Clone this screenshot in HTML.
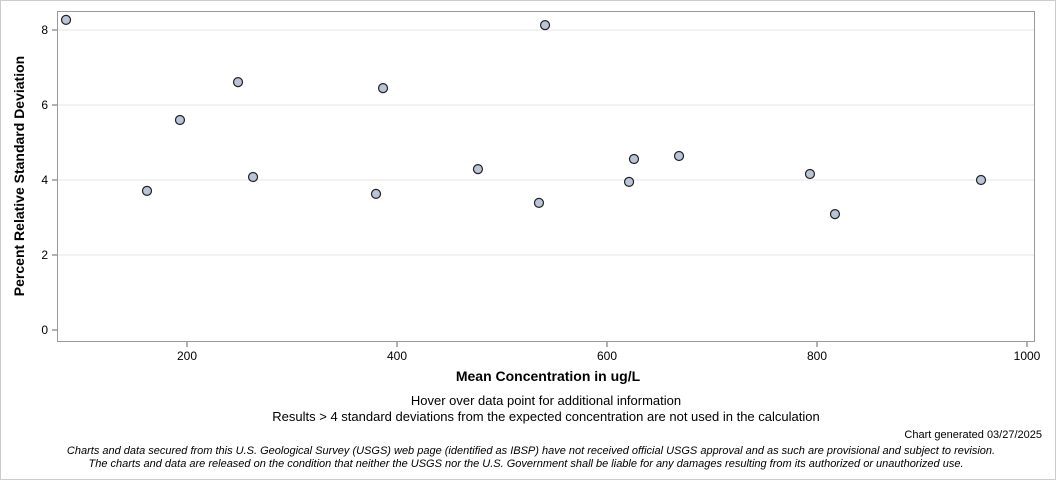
<!DOCTYPE html>
<html><head><meta charset="utf-8"><style>
body{margin:0;background:#fff;font-family:"Liberation Sans",Arial,sans-serif;}
</style></head><body>
<svg id="chart" width="1056" height="480" xmlns="http://www.w3.org/2000/svg" font-family="Liberation Sans, Arial, sans-serif">
<rect x="0.5" y="0.5" width="1055" height="479" fill="#fff" stroke="#ccc"/>
<g id="grid"></g>
<rect x="57.5" y="11.5" width="977" height="330" fill="none" stroke="#999"/>
<g id="xaxis"></g>
<g id="yaxis"></g>
<g id="points"></g>
<text x="548" y="381" text-anchor="middle" font-size="14" font-weight="bold">Mean Concentration in ug/L</text>
<text transform="translate(24,176) rotate(-90)" text-anchor="middle" font-size="14" font-weight="bold">Percent Relative Standard Deviation</text>
<text x="546" y="405" text-anchor="middle" font-size="13">Hover over data point for additional information</text>
<text x="546" y="421" text-anchor="middle" font-size="13">Results &gt; 4 standard deviations from the expected concentration are not used in the calculation</text>
<text x="1042" y="438" text-anchor="end" font-size="11">Chart generated 03/27/2025</text>
<text x="531" y="454" text-anchor="middle" font-size="11" font-style="italic">Charts and data secured from this U.S. Geological Survey (USGS) web page (identified as IBSP) have not received official USGS approval and as such are provisional and subject to revision.</text>
<text x="526" y="467" text-anchor="middle" font-size="11" font-style="italic">The charts and data are released on the condition that neither the USGS nor the U.S. Government shall be liable for any damages resulting from its authorized or unauthorized use.</text>
</svg>
<script>
const xVals=[84.8,161.9,193.3,248.6,262.9,380,386.7,477.1,535.2,541,621,625.7,668.6,793.3,817.1,956.2];
const yVals=[8.27,3.71,5.6,6.61,4.08,3.63,6.45,4.29,3.39,8.13,3.95,4.56,4.64,4.16,3.09,4.0];
const xTicks=[200,400,600,800,1000];
const yTicks=[0,2,4,6,8];
const NS="http://www.w3.org/2000/svg";
function xs(v){return 187+(v-200)*1.05;}
function ys(v){return 330-v*37.5;}
function mk(t,a,p){const e=document.createElementNS(NS,t);for(const k in a)e.setAttribute(k,a[k]);p.appendChild(e);return e;}
const grid=document.getElementById('grid'),xa=document.getElementById('xaxis'),ya=document.getElementById('yaxis'),pts=document.getElementById('points');
yTicks.forEach(t=>{const y=ys(t);
 if(t>0){const g=mk('line',{x1:58,x2:1034,y1:y,y2:y,stroke:'#e4e4e4'},grid);
 
 }
 const l=mk('line',{x1:52,x2:57,y1:y,y2:y,stroke:'#666'},ya);
 
 
 const tx=mk('text',{x:48,y:y+4,'text-anchor':'end','font-size':12},ya);tx.textContent=t;
 
 
});
xTicks.forEach(t=>{const x=xs(t);
 const l=mk('line',{x1:x,x2:x,y1:342,y2:347,stroke:'#666'},xa);
 
 
 const tx=mk('text',{x:x,y:360,'text-anchor':'middle','font-size':12},xa);tx.textContent=t;
 
 
});
xVals.forEach((v,i)=>{
 const c=mk('circle',{cx:xs(v),cy:ys(yVals[i]),r:4.5,fill:'#b9c4d9',stroke:'#222','stroke-width':1.2},pts);
 
 
});
</script>
</body></html>
